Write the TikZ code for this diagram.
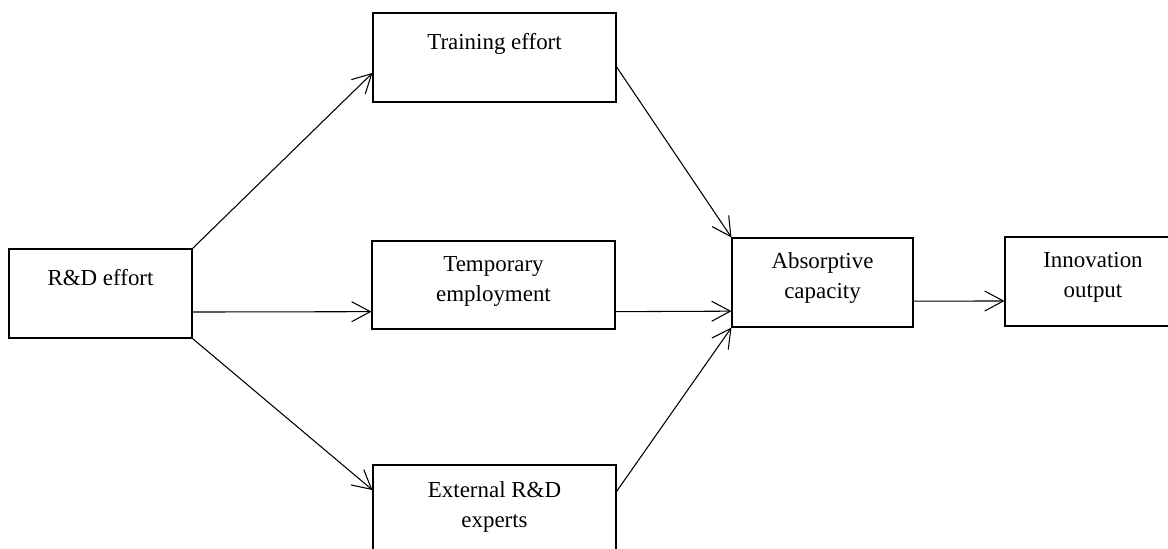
\documentclass[tikz,border=0pt]{standalone}
\usepackage{fontspec}
\setmainfont{Liberation Serif}
\usetikzlibrary{arrows.meta}
\begin{document}
\begin{tikzpicture}[x=0.75pt, y=-0.75pt, line width=0.8pt,
  box/.style={draw, minimum height=66.75pt},
  lbl/.style={anchor=north, inner sep=0pt, align=center, yshift=#1, font=\fontsize{17.2}{22.5}\selectfont},
  lbl/.default=-11.25pt,
  flow/.style={-{Straight Barb[length=14pt, width=15pt]}}]
\useasboundingbox (0,0) rectangle (1168,549);
\clip (0,0) rectangle (1168,549);
\node[box, minimum width=137.25pt, label={[lbl=-15pt]north:R\&D effort}] (rd) at (100.5,293.5){};
\node[box, minimum width=182.25pt, label={[lbl=-15pt]north:Training effort}] (train) at (494.5,57.5){};
\node[box, minimum width=182.25pt, minimum height=66pt, label={[lbl]north:{Temporary\\employment}}] (temp) at (493.5,285){};
\node[box, minimum width=182.25pt, label={[lbl=-12.75pt]north:{External R\&D\\experts}}] (ext) at (494.5,509.5){};
\node[box, minimum width=135.75pt, label={[lbl]north:{Absorptive\\capacity}}] (absorb) at (822.5,282.5){};
\node[box, minimum width=132pt, label={[lbl]north:{Innovation\\output}}] (innov) at (1093,281.5){};
\draw[flow] (rd.north east) -- ([yshift=-11.6pt]train.west);
\draw[flow] ([yshift=-13.9pt]rd.east) -- ([yshift=-20pt]temp.west);
\draw[flow] (rd.south east) -- ([yshift=14.6pt]ext.west);
\draw[flow] ([yshift=-7pt]train.east) -- (absorb.north west);
\draw[flow] ([yshift=-20pt]temp.east) -- ([yshift=-21.5pt]absorb.west);
\draw[flow] ([yshift=13.5pt]ext.east) -- (absorb.south west);
\draw[flow] ([yshift=-14pt]absorb.east) -- ([yshift=-14.6pt]innov.west);
\end{tikzpicture}
\end{document}
